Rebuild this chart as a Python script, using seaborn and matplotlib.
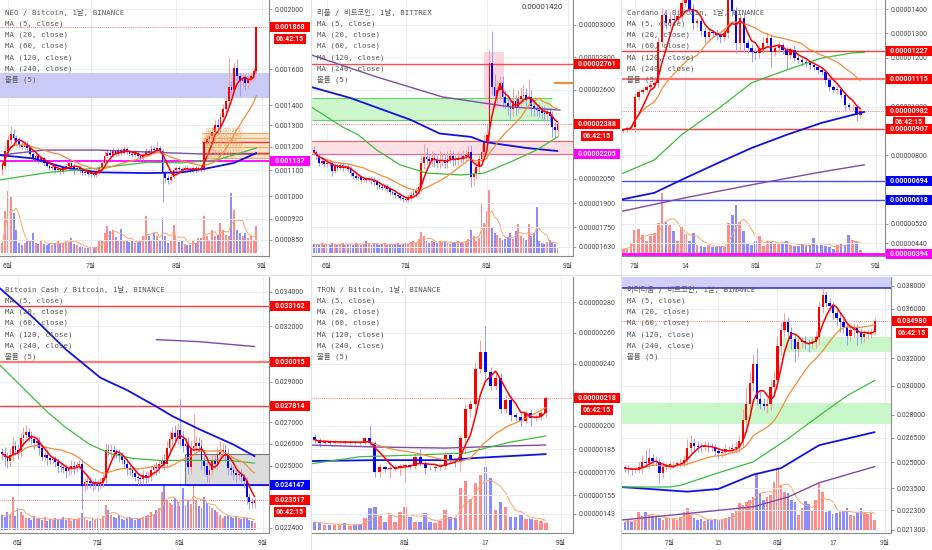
import numpy as np
import pandas as pd
import matplotlib
matplotlib.use("Agg")
import matplotlib.pyplot as plt
import matplotlib.ticker as mticker
from matplotlib.patches import Rectangle
from matplotlib.transforms import IdentityTransform
from matplotlib.lines import Line2D
import seaborn as sns

# ---------------- DATA ----------------
legend_lines = ["MA (5, close)", "MA (20, close)", "MA (60, close)",
                "MA (120, close)", "MA (240, close)", "볼륨 (5)"]
month_labels = ["6월", "7월", "8월", "9월"]

# NEO / Bitcoin (units 1e-6), first candle = day -2 (Jun 1 = day 0)
neo_open0 = 1100
neo_close = [1120, 1180, 1230, 1260, 1240, 1225, 1210, 1200, 1215, 1195,
             1170, 1150, 1160, 1140, 1150, 1130, 1120, 1110, 1115, 1100,
             1105, 1095, 1110, 1120, 1130, 1120, 1105, 1110, 1100, 1090,
             1095, 1085, 1090, 1080, 1095, 1110, 1130, 1160, 1175, 1165,
             1180, 1170, 1185, 1175, 1190, 1180, 1170, 1165, 1175, 1160,
             1150, 1165, 1180, 1175, 1190, 1185, 1195, 1180, 1090, 1070,
             1060, 1075, 1100, 1110, 1105, 1100, 1110, 1105, 1100, 1110,
             1100, 1110, 1105, 1220, 1235, 1250, 1270, 1300, 1290, 1340,
             1380, 1420, 1500, 1480, 1610, 1560, 1530, 1550, 1520, 1545,
             1560, 1590, 1868]
neo_wick_up = [15, 30, 25, 35, 20, 15, 20, 15, 15, 10,
               10, 10, 12, 10, 10, 8, 10, 8, 10, 8,
               8, 10, 10, 12, 10, 8, 8, 10, 8, 8,
               8, 8, 8, 10, 10, 12, 15, 20, 15, 10,
               15, 10, 12, 10, 15, 10, 8, 10, 12, 8,
               10, 10, 15, 10, 20, 12, 25, 10, 10, 8,
               10, 15, 10, 10, 8, 10, 12, 8, 10, 8,
               8, 10, 10, 15, 20, 25, 20, 25, 30, 20,
               25, 30, 170, 30, 30, 50, 20, 30, 20, 15,
               20, 15, 10]
neo_wick_dn = [20, 15, 20, 15, 15, 20, 10, 10, 15, 12,
               10, 12, 8, 10, 8, 10, 8, 10, 8, 10,
               8, 10, 8, 10, 8, 10, 20, 8, 10, 8,
               10, 8, 10, 8, 8, 10, 8, 10, 8, 10,
               8, 10, 8, 10, 8, 10, 10, 8, 10, 8,
               10, 8, 10, 8, 10, 8, 10, 8, 110, 15,
               15, 10, 10, 8, 10, 8, 8, 10, 8, 10,
               10, 8, 10, 10, 15, 20, 15, 20, 25, 20,
               20, 25, 30, 20, 20, 30, 80, 30, 40, 30,
               20, 25, 20]
neo_vol = [10, 42, 62, 57, 40, 23, 10, 8, 10, 12,
           12, 20, 10, 9, 13, 9, 8, 9, 8, 10,
           12, 9, 10, 13, 11, 15, 9, 8, 6, 6,
           5, 5, 6, 5, 6, 12, 13, 20, 27, 22,
           23, 16, 12, 24, 13, 12, 11, 12, 10, 11,
           12, 17, 37, 17, 12, 20, 17, 12, 35, 17,
           10, 12, 28, 17, 11, 12, 9, 8, 8, 13,
           10, 15, 15, 37, 17, 12, 23, 17, 18, 30,
           23, 18, 17, 60, 43, 23, 20, 17, 20, 15,
           17, 12, 27]
neo_ma60_d = [-3, 15, 33, 51, 63, 76, 90]
neo_ma60 = [1062, 1092, 1110, 1134, 1131, 1144, 1195]
neo_ma120_d = [-3, 9, 21, 33, 51, 63, 72, 82, 90]
neo_ma120 = [1164, 1150, 1110, 1092, 1089, 1092, 1108, 1131, 1173]
neo_ma240_d = [-3, 13, 33, 51, 70, 90]
neo_ma240 = [1164, 1186, 1186, 1177, 1169, 1169]
neo_ticks = [2000, 1600, 1400, 1300, 1200, 1100, 1000, 920, 850]
neo_fib_levels = [1263, 1240, 1222, 1200, 1171, 1153]
neo_fib_names = ["0.236", "0.382", "0.5", "0.618", "0.786", "1"]
neo_fib_red = [1224, 1175]

# XRP (리플) / 비트코인 (units 1e-8), first candle = day -5
xrp_open0 = 2230
xrp_close = [2216, 2190, 2150, 2160, 2140, 2150, 2145, 2100, 2130, 2120,
             2135, 2118, 2125, 2110, 2085, 2070, 2056, 2060, 2045, 2048,
             2043, 2050, 2040, 2030, 2010, 2000, 1994, 2005, 1985, 1970,
             1965, 1951, 1945, 1935, 1926, 1920, 1935, 1950, 1960, 1975,
             2000, 2150, 2185, 2170, 2160, 2179, 2165, 2150, 2160, 2167,
             2150, 2175, 2190, 2170, 2165, 2180, 2175, 2190, 2200, 2216,
             2062, 2080, 2123, 2170, 2216, 2280, 2321, 2765, 2620, 2560,
             2600, 2642, 2556, 2520, 2494, 2480, 2530, 2494, 2540, 2560,
             2570, 2540, 2556, 2500, 2480, 2475, 2470, 2457, 2450, 2460,
             2440, 2370, 2350, 2388]
xrp_wick_up = [20, 15, 20, 25, 15, 20, 15, 20, 20, 15,
               20, 15, 15, 15, 20, 15, 15, 20, 15, 15,
               15, 15, 15, 20, 15, 15, 20, 15, 15, 15,
               15, 15, 15, 15, 15, 20, 20, 25, 20, 25,
               30, 40, 80, 60, 30, 40, 30, 30, 60, 40,
               30, 50, 40, 30, 30, 40, 30, 40, 30, 40,
               40, 30, 40, 30, 40, 40, 60, 80, 200, 80,
               60, 40, 40, 40, 50, 40, 80, 40, 60, 60,
               60, 40, 110, 40, 40, 30, 40, 30, 40, 30,
               30, 30, 30, 20]
xrp_wick_dn = [20, 20, 20, 15, 20, 15, 20, 30, 15, 20,
               15, 20, 15, 20, 15, 20, 15, 15, 20, 15,
               15, 15, 20, 15, 20, 15, 15, 20, 15, 20,
               15, 20, 15, 15, 20, 15, 15, 20, 15, 20,
               20, 30, 40, 30, 30, 30, 40, 30, 30, 30,
               30, 30, 30, 40, 30, 30, 30, 30, 30, 30,
               60, 50, 30, 30, 30, 30, 30, 40, 50, 60,
               40, 60, 60, 40, 50, 60, 40, 50, 40, 40,
               40, 40, 40, 60, 40, 40, 40, 40, 40, 40,
               40, 60, 40, 40]
xrp_vol = [9, 8, 9, 10, 8, 9, 8, 10, 9, 8,
           9, 10, 8, 9, 9, 8, 10, 9, 8, 9,
           12, 9, 8, 10, 9, 8, 9, 10, 8, 9,
           8, 9, 10, 8, 9, 10, 9, 11, 12, 10,
           14, 21, 17, 12, 10, 12, 11, 10, 12, 11,
           12, 10, 9, 10, 11, 12, 11, 10, 12, 14,
           23, 17, 12, 15, 50, 30, 42, 63, 25, 20,
           18, 15, 13, 14, 16, 20, 14, 22, 29, 17,
           15, 13, 29, 17, 20, 46, 12, 10, 9, 11,
           13, 10, 9, 5]
xrp_ma60_d = [-6, 6, 12, 19, 28, 38, 51, 60, 70, 80, 88]
xrp_ma60 = [2494, 2370, 2321, 2228, 2136, 2086, 2074, 2086, 2154, 2228, 2309]
xrp_ma120_d = [-6, 9, 32, 43, 55, 60, 76, 88]
xrp_ma120 = [2617, 2549, 2414, 2330, 2309, 2278, 2241, 2222]
xrp_ma240_d = [-6, 19, 44, 70, 89]
xrp_ma240 = [2815, 2679, 2556, 2494, 2475]
xrp_ticks = [3000, 2800, 2600, 2050, 1900, 1750, 1630]

# Cardano / Bitcoin (units 1e-8), first candle = day -3 (Jul 1 = day 0)
ada_open0 = 900
ada_close = [905, 912, 916, 1040, 1060, 1068, 1080, 1089, 1097, 1265,
             1375, 1343, 1360, 1355, 1370, 1425, 1440, 1400, 1343, 1350,
             1310, 1285, 1306, 1300, 1293, 1285, 1300, 1437, 1390, 1261,
             1363, 1260, 1240, 1224, 1220, 1235, 1261, 1281, 1224, 1240,
             1252, 1230, 1212, 1232, 1200, 1191, 1183, 1178, 1170, 1162,
             1150, 1142, 1109, 1080, 1068, 1070, 1048, 1007, 998, 1000,
             966, 982]
ada_wick_up = [8, 8, 10, 15, 12, 10, 10, 10, 12, 20,
               30, 20, 30, 20, 25, 30, 20, 25, 20, 15,
               20, 15, 15, 10, 15, 10, 20, 20, 30, 20,
               20, 15, 15, 15, 15, 15, 25, 20, 15, 15,
               15, 10, 15, 12, 15, 10, 12, 12, 10, 12,
               10, 10, 10, 10, 8, 10, 8, 10, 8, 10,
               8, 6]
ada_wick_dn = [10, 8, 8, 20, 15, 10, 10, 10, 12, 15,
               20, 25, 20, 20, 15, 20, 15, 20, 30, 20,
               20, 25, 15, 15, 20, 25, 15, 20, 20, 40,
               30, 35, 20, 40, 30, 20, 15, 20, 60, 15,
               20, 15, 60, 15, 15, 12, 15, 15, 15, 12,
               15, 12, 15, 15, 10, 15, 15, 25, 12, 15,
               25, 15]
ada_vol = [4, 5, 10, 23, 24, 18, 12, 17, 20, 30,
           60, 31, 28, 22, 12, 26, 19, 12, 20, 8,
           7, 6, 8, 6, 6, 7, 6, 30, 38, 48,
           31, 22, 10, 8, 12, 17, 7, 12, 11, 10,
           10, 9, 12, 8, 7, 7, 9, 7, 8, 15,
           8, 8, 7, 6, 4, 8, 9, 8, 18, 13,
           11, 3]
ada_ma60_d = [-4, 5, 12, 22, 30, 39, 48, 56, 59]
ada_ma60 = [720, 781, 884, 998, 1097, 1150, 1199, 1220, 1222]
ada_ma120_d = [-4, 5, 13, 22, 30, 39, 48, 59]
ada_ma120 = [617, 646, 707, 773, 830, 884, 933, 978]
ada_ma240_d = [-4, 13, 30, 48, 59]
ada_ma240 = [568, 626, 679, 732, 761]
ada_ticks = [1400, 1300, 1200, 1000, 800, 520, 440]
ada_xlabels = ["7월", "14", "8월", "17", "9월"]

# Bitcoin Cash / Bitcoin (units 1e-6), first candle = day -6 (Jun 1 = day 0)
bch_open0 = 25600
bch_close = [25540, 25400, 25200, 25500, 25910, 25700, 25600, 26260, 26400, 26530,
             26300, 26200, 26050, 26100, 25800, 25410, 25500, 25350, 25270, 25300,
             25150, 25000, 24950, 24900, 24780, 24850, 25000, 24950, 25040, 25100,
             24110, 24300, 24350, 24250, 24200, 24250, 24200, 24300, 24450, 25730,
             25650, 25700, 25610, 25550, 25450, 25260, 25100, 24900, 24810, 24700,
             24530, 24450, 24420, 24600, 24500, 24550, 24800, 24940, 24900, 25100,
             25260, 25100, 25820, 26200, 26480, 26300, 26650, 26210, 25900, 26000,
             24940, 25800, 25900, 26050, 25900, 25210, 25000, 24600, 24800, 25200,
             25100, 25540, 25600, 25730, 25500, 24900, 24810, 24700, 24600, 24650,
             24500, 24320, 23670, 23460, 23400, 23517]
bch_wick_up = [200, 300, 200, 300, 400, 200, 300, 250, 400, 350,
               200, 300, 200, 250, 200, 200, 150, 200, 150, 200,
               150, 200, 150, 150, 200, 150, 250, 200, 150, 150,
               200, 150, 200, 150, 150, 200, 150, 150, 200, 300,
               250, 300, 200, 150, 200, 150, 150, 200, 150, 150,
               150, 150, 150, 200, 150, 200, 200, 150, 250, 200,
               200, 250, 300, 400, 300, 400, 300, 1500, 400, 300,
               300, 300, 1500, 300, 250, 300, 300, 400, 300, 300,
               300, 300, 500, 300, 250, 300, 200, 200, 200, 200,
               200, 150, 200, 150, 150, 100]
bch_wick_dn = [300, 400, 300, 200, 300, 200, 300, 200, 300, 200,
               200, 200, 300, 200, 300, 200, 200, 300, 200, 200,
               200, 300, 200, 200, 300, 200, 200, 300, 200, 200,
               1000, 200, 300, 200, 300, 200, 300, 200, 200, 200,
               200, 300, 200, 200, 300, 200, 200, 300, 200, 200,
               200, 300, 200, 200, 300, 200, 200, 200, 300, 200,
               200, 300, 200, 300, 300, 200, 300, 300, 300, 200,
               300, 300, 200, 300, 300, 400, 300, 300, 300, 200,
               200, 300, 300, 200, 300, 300, 200, 300, 300, 200,
               200, 300, 300, 300, 200, 200]
bch_vol = [15, 13, 18, 15, 33, 14, 22, 18, 15, 12,
           12, 10, 14, 11, 12, 10, 13, 9, 11, 10,
           12, 10, 11, 13, 10, 12, 9, 11, 10, 12,
           17, 12, 10, 9, 11, 10, 12, 11, 14, 25,
           20, 15, 13, 12, 15, 11, 10, 12, 13, 11,
           10, 12, 11, 13, 14, 15, 18, 16, 20, 22,
           38, 45, 30, 27, 25, 32, 28, 24, 42, 25,
           30, 26, 48, 30, 24, 22, 33, 27, 24, 22,
           20, 18, 15, 12, 14, 15, 13, 12, 14, 12,
           11, 13, 12, 10, 9, 7]
bch_ma60_d = [-7, 11, 18, 27, 35, 43, 53, 64, 79, 89]
bch_ma60 = [29900, 27500, 26750, 25960, 25540, 25330, 25240, 25240, 25240, 25120]
bch_ma120_d = [-7, 6, 18, 31, 41, 51, 58, 68, 81, 89]
bch_ma120 = [34240, 32450, 30710, 29210, 28580, 27840, 27300, 26680, 25960, 25430]
bch_ma240_d = [52, 68, 89]
bch_ma240 = [31250, 31140, 30870]
bch_ticks = [34000, 32000, 29000, 27000, 26000, 25000, 22400]

# TRON / Bitcoin (units 1e-8), first candle = day -18 (Aug 1 = day 0)
trx_open0 = 193
trx_close = [191, 189, 190, 189, 189.5, 190, 189, 189.5, 189, 188.8,
             192, 189, 170, 173.3, 172, 173, 173.5, 174, 174.5, 174,
             180, 176, 173, 172.7, 173.5, 174, 181, 177, 176.6, 192,
             211, 214, 237, 247.7, 235, 226, 231, 211, 217, 207,
             206, 203, 208, 205, 205.5, 208, 218]
trx_wick_up = [1.5, 1, 1, 1, 1, 1, 1, 1.5, 1, 1,
               1, 8, 1, 2, 1, 1, 1.5, 1, 1, 1,
               2, 5, 1, 1, 1, 1, 2, 1, 1, 2,
               3, 3, 4, 8, 17, 3, 3, 3, 3, 3,
               2, 2, 2, 3, 2, 2, 1]
trx_wick_dn = [2, 3, 1, 1, 1, 1, 1, 1, 1, 1,
               1, 2, 3, 3, 2, 6, 2, 5, 10, 2,
               2, 2, 4, 1, 2, 2, 2, 2, 3, 6,
               10, 5, 5, 3, 5, 3, 3, 3, 3, 4,
               3, 3, 2, 5, 2, 2, 2]
trx_vol = [8, 7, 5, 5, 5, 5, 7, 4, 5, 6,
           12, 22, 23, 14, 8, 15, 8, 18, 23, 13,
           8, 8, 17, 8, 7, 9, 20, 13, 12, 42,
           49, 31, 47, 55, 63, 52, 20, 28, 23, 13,
           13, 15, 11, 11, 10, 9, 7]
trx_ma60_d = [-19, -9, 1, 12, 21, 28]
trx_ma60 = [175.3, 180, 181, 182.4, 189.5, 193.4]
trx_ma120_d = [-19, -6, 8, 14, 28]
trx_ma120 = [177.2, 177.8, 177.8, 179.2, 181.7]
trx_ma240_d = [-19, -6, 8, 21, 28]
trx_ma240 = [187.6, 186.3, 185.6, 187, 187.6]
trx_ticks = [280, 260, 240, 200, 185, 170, 155, 143]
trx_xlabels = ["8월", "17", "9월"]

# 이더리움 / 비트코인 (units 1e-6), first candle = day -13 (Jul 1 = day 0)
eth_open0 = 24700
eth_close = [24660, 24600, 24560, 24560, 24700, 25020, 24950, 25250, 25100, 25050,
             24400, 24700, 24780, 24890, 24900, 24950, 24980, 25130, 25850, 26160,
             26000, 25950, 25910, 26000, 25950, 25900, 25700, 25540, 25600, 25800,
             25790, 25850, 25910, 26300, 27660, 28710, 30200, 31570, 29040, 28700,
             28600, 28700, 29900, 30370, 32980, 34260, 34900, 34100, 33490, 32740,
             33300, 33340, 33200, 33100, 33300, 33640, 36110, 37210, 36520, 36200,
             35640, 35200, 34900, 34500, 33750, 34200, 34400, 34000, 33700, 33900,
             34000, 34100, 34980]
eth_wick_up = [150, 200, 150, 150, 300, 400, 700, 600, 250, 200,
               200, 200, 200, 150, 200, 150, 200, 300, 600, 500,
               300, 300, 200, 300, 250, 200, 200, 200, 200, 300,
               200, 250, 300, 400, 700, 1200, 800, 800, 1200, 600,
               400, 500, 500, 700, 800, 600, 700, 400, 400, 500,
               400, 300, 400, 300, 400, 500, 600, 600, 300, 400,
               400, 300, 500, 300, 400, 500, 400, 300, 400, 300,
               300, 300, 200]
eth_wick_dn = [200, 200, 300, 200, 200, 300, 200, 300, 200, 200,
               600, 300, 200, 200, 200, 200, 200, 200, 300, 400,
               300, 300, 300, 200, 300, 200, 300, 300, 200, 200,
               200, 200, 300, 300, 400, 500, 500, 600, 400, 300,
               300, 500, 400, 600, 600, 700, 600, 500, 800, 1000,
               600, 500, 500, 600, 400, 500, 500, 500, 400, 400,
               500, 600, 800, 500, 700, 400, 500, 1000, 500, 400,
               400, 400, 300]
eth_vol = [8, 10, 8, 10, 18, 14, 18, 15, 14, 13,
           12, 10, 12, 12, 11, 10, 13, 18, 22, 15,
           12, 10, 11, 9, 10, 10, 11, 10, 10, 12,
           13, 17, 20, 27, 25, 28, 30, 33, 57, 37,
           30, 33, 35, 48, 62, 45, 38, 37, 30, 28,
           15, 22, 29, 26, 20, 30, 47, 38, 18, 20,
           16, 17, 18, 20, 22, 15, 14, 17, 22, 18,
           16, 17, 10]
eth_ma60_d = [-14, 0, 3, 14, 24, 34, 43, 51, 59]
eth_ma60 = [23580, 23580, 23670, 24390, 25030, 26440, 27930, 29280, 30370]
eth_ma120_d = [-14, 5, 14, 24, 32, 43, 59]
eth_ma120 = [23580, 23320, 23470, 24280, 24660, 26040, 26860]
eth_ma240_d = [-14, 5, 24, 34, 43, 59]
eth_ma240 = [21800, 22140, 22500, 23020, 23820, 24750]
eth_ticks = [38000, 36000, 32000, 30000, 28000, 26500, 25000, 23500, 22300, 21300]
eth_xlabels = ["7월", "15", "8월", "17", "9월"]

# ---------------- STYLE ----------------
sns.set_theme(style="white")
plt.rcParams["font.family"] = ["DejaVu Sans Mono", "Noto Sans CJK KR", "DejaVu Sans"]

W, H = 932, 550
fig = plt.figure(figsize=(W / 100, H / 100), dpi=100)
fig.patch.set_facecolor("white")

UP, DN = "#FF0000", "#0000FF"
WUP, WDN = "#FF9A9A", "#9A9AFF"
VUP, VDN = "#FF8C8C", "#8C8CFF"
C5, C20, C60, C120, C240 = "#FF0000", "#F58C3A", "#3CBE3C", "#1010E6", "#7E4BA6"
GRID = "#EBEFF4"
TXT = "#4A4A4A"
LEG = "#5A5A5A"
RED_BOX, BLUE_BOX, MAG_BOX = "#FF0000", "#0000FF", "#FF00FF"


def draw(px, title, start_day, open0, close, wup, wdn, vol, unit, dec, log,
         ylim, yticks, xlim, xticks, xlabels, ma60, ma120, ma240):
    x0, y0, x1, y1 = px
    rect = [x0 / W, 1 - y1 / H, (x1 - x0) / W, (y1 - y0) / H]
    axv = fig.add_axes(rect)
    ax = fig.add_axes(rect)
    ax.set_facecolor("none")
    hpx, wpx = y1 - y0, x1 - x0

    n = len(close)
    days = np.arange(start_day, start_day + n)
    c = np.asarray(close, float)
    o = np.concatenate([[open0], c[:-1]])
    up = c >= o
    hi = np.maximum(o, c) + np.asarray(wup, float)
    lo = np.minimum(o, c) - np.asarray(wdn, float)

    # volume (separate hidden axes underneath)
    v = np.asarray(vol, float)
    axv.bar(days, v, width=0.72, color=np.where(up, VUP, VDN), linewidth=0)
    vma = pd.Series(v).rolling(5, min_periods=1).mean().values
    sns.lineplot(x=days, y=vma, ax=axv, color="#FFA566", linewidth=0.7, legend=False)
    axv.set_xlim(xlim)
    axv.set_ylim(-3, hpx - 3)
    axv.axis("off")

    if log:
        ax.set_yscale("log")
    for t in yticks:
        ax.axhline(t, color=GRID, lw=0.7, zorder=0)
    for t in xticks:
        ax.axvline(t, color=GRID, lw=0.7, zorder=0)

    for (d, vals), col, lw in ((ma240, C240, 1.0), (ma120, C120, 1.3), (ma60, C60, 0.9)):
        sns.lineplot(x=np.asarray(d, float), y=np.asarray(vals, float), ax=ax,
                     color=col, linewidth=lw, legend=False, zorder=5)

    ax.vlines(days, lo, hi, colors=np.where(up, WUP, WDN), linewidth=0.7, zorder=3)
    ax.bar(days, c - o, bottom=o, width=0.64, color=np.where(up, UP, DN),
           linewidth=0, zorder=4)

    s = pd.Series(c)
    sns.lineplot(x=days, y=s.rolling(20, min_periods=1).mean().values, ax=ax,
                 color=C20, linewidth=0.9, legend=False, zorder=6)
    sns.lineplot(x=days, y=s.rolling(5, min_periods=1).mean().values, ax=ax,
                 color=C5, linewidth=1.1, legend=False, zorder=7)

    ax.set_xlim(xlim)
    ax.set_ylim(ylim)
    ax.set_xlabel("")
    ax.set_ylabel("")
    ax.yaxis.tick_right()
    ax.set_yticks(yticks)
    ax.set_yticklabels([f"{t * unit:.{dec}f}" for t in yticks], fontfamily="Roboto",
                       fontsize=5.0, color=TXT)
    ax.yaxis.set_minor_locator(mticker.NullLocator())
    ax.yaxis.set_minor_formatter(mticker.NullFormatter())
    ax.set_xticks(xticks)
    ax.set_xticklabels(xlabels, fontfamily="Noto Sans CJK KR", fontsize=4.9, color=TXT)
    ax.tick_params(axis="y", which="both", length=2, width=0.6, pad=2, color="#888888",
                   left=False, right=True)
    ax.tick_params(axis="x", length=2, width=0.6, pad=2.5, color="#888888")
    for sp in ("top", "left"):
        ax.spines[sp].set_visible(False)
    for sp in ("right", "bottom"):
        ax.spines[sp].set_color("#8A8A8A")
        ax.spines[sp].set_linewidth(0.8)

    for i, t in enumerate([title] + legend_lines):
        ax.text(5 / wpx, 1 - (12.5 + 11.2 * i) / hpx, t, transform=ax.transAxes,
                fontsize=5.3, color=LEG, va="center", ha="left",
                family=["DejaVu Sans Mono", "Noto Sans CJK KR"], zorder=12)
    ax.unit, ax.dec = unit, dec
    return ax


def box(ax, val, fc, right_edge, text=None, dy=0, w=None):
    x1 = ax.bbox.x1
    yd = ax.transData.transform((ax.get_xlim()[0], val))[1] - dy
    if w is None:
        bx = x1 + 1
        w = right_edge - bx
    else:
        bx = x1 + 1 + ((right_edge - x1 - 1) - w) / 2
    if text is None:
        text = f"{val * ax.unit:.{ax.dec}f}"
    fig.add_artist(Rectangle((bx, yd - 5), w, 10, transform=IdentityTransform(),
                             facecolor=fc, edgecolor="none", zorder=20))
    fig.text(bx + w / 2, yd, text, transform=IdentityTransform(), ha="center",
             va="center", fontsize=5.0, color="white", fontweight="bold",
             family="Roboto", zorder=21)


def dotted(ax, val):
    ax.axhline(val, color="#FF5050", lw=0.6, ls=(0, (1, 1.3)), zorder=2)


def hline(ax, val, col, lw=1.0, x0=None):
    if x0 is None:
        ax.axhline(val, color=col, lw=lw, zorder=2)
    else:
        ax.hlines(val, x0, ax.get_xlim()[1], colors=col, lw=lw, zorder=2)


def zone(ax, lo, hi, col, x0=None, x1=None, edge=None):
    xl = ax.get_xlim()
    a = xl[0] if x0 is None else x0
    b = xl[1] if x1 is None else x1
    ax.fill_between([a, b], lo, hi, color=col, lw=0, zorder=1)
    if edge:
        ax.hlines([lo, hi], a, b, colors=edge, lw=0.8, zorder=1.5)


# ---------------- PANELS ----------------
# 1. NEO
ax1 = draw((0, 0, 269, 256), "NEO / Bitcoin, 1날, BINANCE", -2, neo_open0, neo_close,
           neo_wick_up, neo_wick_dn, neo_vol, 1e-6, 6, True, (801, 2068), neo_ticks,
           (-2.9, 94.6), [0, 30, 61, 92], month_labels,
           (neo_ma60_d, neo_ma60), (neo_ma120_d, neo_ma120), (neo_ma240_d, neo_ma240))
zone(ax1, 1438, 1578, "#CACAF7")
zone(ax1, neo_fib_levels[-1], neo_fib_levels[0], "#FCE3C8", x0=70.3)
for lv, nm in zip(neo_fib_levels, neo_fib_names):
    hline(ax1, lv, "#F7A35C", 0.7, x0=70.3)
    ax1.text(71.5, lv, f"{nm}({lv * 1e-6:.6f})", fontsize=3.6, color="#F59A4A",
             va="bottom", ha="left", family="Roboto", zorder=8)
for lv in neo_fib_red:
    hline(ax1, lv, "#FF3030", 1.0, x0=70.3)
hline(ax1, 1137, "#FF00FF", 1.3)
dotted(ax1, 1868)
box(ax1, 1868, RED_BOX, 310)
box(ax1, 1868, RED_BOX, 310, text="06:42:15", dy=12, w=32)
box(ax1, 1137, MAG_BOX, 310)

# 2. XRP
ax2 = draw((312, 0, 573, 256), "리플 / 비트코인, 1날, BITTREX", -5, xrp_open0, xrp_close,
           xrp_wick_up, xrp_wick_dn, xrp_vol, 1e-8, 8, False, (1574, 3154), xrp_ticks,
           (-5.7, 93.9), [0, 30, 61, 92], month_labels,
           (xrp_ma60_d, xrp_ma60), (xrp_ma120_d, xrp_ma120), (xrp_ma240_d, xrp_ma240))
zone(ax2, 2414, 2549, "#CDF6CD", x0=-5.7, x1=86, edge="#66D066")
zone(ax2, 2480, 2830, "#F9D5E0", x0=60, x1=67.5)
zone(ax2, 2204, 2284, "#FBE1E5")
hline(ax2, 2284, "#FF5A5A", 0.8)
hline(ax2, 2204, "#FF5A8A", 0.8)
hline(ax2, 2761, "#FF4A4A", 1.0)
hline(ax2, 2642, "#F58C3A", 1.5, x0=86.5)
dotted(ax2, 2388)
box(ax2, 2761, RED_BOX, 620)
box(ax2, 2388, RED_BOX, 620)
box(ax2, 2388, RED_BOX, 620, text="06:42:15", dy=12, w=32)
box(ax2, 2205, MAG_BOX, 620)
fig.text(522 / W, 1 - 7 / H, "0.00001420", fontsize=5.6, color="#3A3A3A",
         ha="left", va="center", family="Roboto")

# 3. Cardano
ax3 = draw((622, 0, 885, 256), "Cardano / Bitcoin, 1날, BINANCE", -3, ada_open0, ada_close,
           ada_wick_up, ada_wick_dn, ada_vol, 1e-8, 8, False, (387, 1437), ada_ticks,
           (-3.3, 64.3), [0, 13, 31, 47, 62], ada_xlabels,
           (ada_ma60_d, ada_ma60), (ada_ma120_d, ada_ma120), (ada_ma240_d, ada_ma240))
hline(ax3, 1227, "#FF3A3A", 1.0)
hline(ax3, 1115, "#FF7070", 1.6)
hline(ax3, 907, "#FF3A3A", 1.0)
hline(ax3, 694, "#4A4AFF", 1.0)
hline(ax3, 618, "#4A4AFF", 1.0)
hline(ax3, 394, "#FF00FF", 2.0)
dotted(ax3, 982)
box(ax3, 1227, RED_BOX, 932)
box(ax3, 1115, RED_BOX, 932)
box(ax3, 907, RED_BOX, 932)
box(ax3, 982, RED_BOX, 932)
box(ax3, 982, RED_BOX, 932, text="06:42:15", dy=11, w=32)
box(ax3, 694, BLUE_BOX, 932)
box(ax3, 618, BLUE_BOX, 932)
box(ax3, 394, MAG_BOX, 932)

# 4. Bitcoin Cash
ax4 = draw((0, 277, 269, 533), "Bitcoin Cash / Bitcoin, 1날, BINANCE", -6, bch_open0, bch_close,
           bch_wick_up, bch_wick_dn, bch_vol, 1e-6, 6, True, (22200, 34910), bch_ticks,
           (-6.8, 94.4), [0, 30, 61, 92], month_labels,
           (bch_ma60_d, bch_ma60), (bch_ma120_d, bch_ma120), (bch_ma240_d, bch_ma240))
zone(ax4, 24150, 25540, "#DCDCDC", x0=62.8, edge="#777777")
ax4.vlines(62.8, 24150, 25540, colors="#777777", lw=0.8, zorder=1.5)
hline(ax4, 33162, "#FF3A3A", 1.0)
hline(ax4, 30015, "#FF7A7A", 1.6)
hline(ax4, 27814, "#FF3A3A", 1.0)
hline(ax4, 24147, "#0000FF", 1.2)
dotted(ax4, 23517)
box(ax4, 33162, RED_BOX, 310)
box(ax4, 30015, RED_BOX, 310)
box(ax4, 27814, RED_BOX, 310)
box(ax4, 24147, BLUE_BOX, 310)
box(ax4, 23517, RED_BOX, 310)
box(ax4, 23517, RED_BOX, 310, text="06:42:15", dy=12, w=32)

# 5. TRON
ax5 = draw((312, 277, 573, 533), "TRON / Bitcoin, 1날, BINANCE", -18, trx_open0, trx_close,
           trx_wick_up, trx_wick_dn, trx_vol, 1e-8, 8, False, (130.7, 296.2), trx_ticks,
           (-18.5, 33.4), [0, 16, 31], trx_xlabels,
           (trx_ma60_d, trx_ma60), (trx_ma120_d, trx_ma120), (trx_ma240_d, trx_ma240))
dotted(ax5, 218)
box(ax5, 218, RED_BOX, 620)
box(ax5, 218, RED_BOX, 620, text="06:42:15", dy=12, w=32)

# 6. Ethereum
ax6 = draw((622, 277, 891, 533), "이더리움 / 비트코인, 1날, BINANCE", -13, eth_open0, eth_close,
           eth_wick_up, eth_wick_dn, eth_vol, 1e-6, 6, True, (21140, 38820), eth_ticks,
           (-13.8, 63.7), [0, 14, 31, 47, 62], eth_xlabels,
           (eth_ma60_d, eth_ma60), (eth_ma120_d, eth_ma120), (eth_ma240_d, eth_ma240))
zone(ax6, 37820, 38820, "#CFCFF7")
hline(ax6, 37820, "#3A3AE0", 1.2)
zone(ax6, 32490, 33660, "#C9F7C9", x0=32.6)
zone(ax6, 27380, 28780, "#C9F7C9")
dotted(ax6, 34980)
box(ax6, 34980, RED_BOX, 932)
box(ax6, 34980, RED_BOX, 932, text="06:42:15", dy=12, w=32)

# panel separators
for xs in (311, 621):
    fig.add_artist(Line2D([xs / W, xs / W], [0, 1], transform=fig.transFigure,
                          color="#E2E2E2", lw=0.8, zorder=0))
fig.add_artist(Line2D([0, 1], [1 - 275 / H, 1 - 275 / H], transform=fig.transFigure,
                      color="#E2E2E2", lw=0.8, zorder=0))

fig.savefig("out.png", dpi=100, facecolor="white")
